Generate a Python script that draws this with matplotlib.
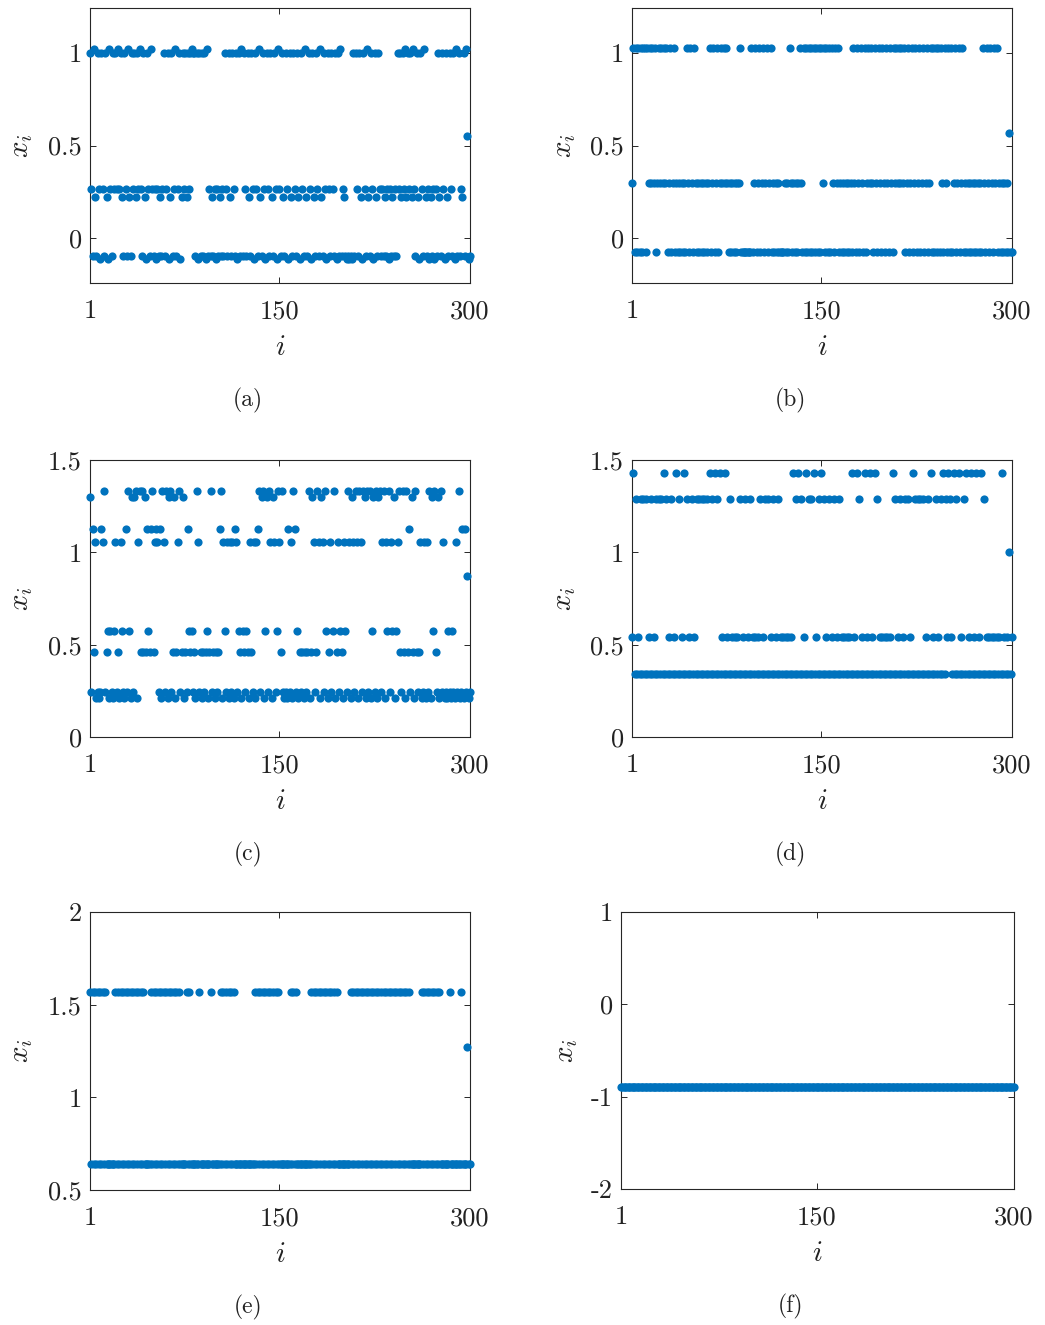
import numpy as np
import matplotlib
matplotlib.use("Agg")
import matplotlib.pyplot as plt

plt.rcParams['font.family'] = 'serif'
plt.rcParams['font.serif'] = ['cmr10']
plt.rcParams['mathtext.fontset'] = 'cm'
plt.rcParams['axes.unicode_minus'] = False

# one character per iterate i = 1..300, each character is a level below
codes_a = ("TMBtmBTMbT" "MBTmbtMBTM" "TMtMTmBTMB" "tmBTMTmTMt" "MBTmbTMBtM"
           "BMbMBmBMTB" "MTbmTBMtBM" "TbmTMTmTMT" "tTTBTbTBTB" "TbtBMBmBMb"
           "MBmBMBTMBT" "mBTMBTbTBt" "BTMBTmBTMb" "TMBtmBTMbT" "MBTmBTMbtM"
           "BTmBTMbTmB" "TMBTmbTMBt" "mBTMbTmBTM" "BtmBTMbTMB" "TMBTbTBtBM"
           "mBbBbBbTBT" "MBTmbTMBtm" "BTMbTmBTMB" "MBmBMbMBmB" "MBTMTmTMtm"
           "TMTmtMBTmb" "TMBtmBMbmB" "MbMBTmBTMb" "TmBTMBTbtB" "TBMmTBtXbB")
levels_a = {'T': 1.00, 't': 1.02, 'M': 0.265, 'm': 0.22,
            'B': -0.097, 'b': -0.113, 'X': 0.55}

codes_b = ("MTBTBTBTBT" "TBTMTMTMTB" "MTMTMTMTBM" "TBMTBMBMBM" "BMBTMBTMBT"
           "MBMBMBMBMB" "MTBMTBMTBM" "TMTMTMBMBM" "BMBMMTBBBB" "BBBBTBMTBM"
           "TBMTBMTBMT" "BMBMBMBBBB" "MBMBTMBMBM" "BMTMBTBTBT" "BTBTBTBTBT"
           "MTBTBTBTMB" "TMTBMBMBMB" "MBMBTMBTMB" "TMBTBMTMTM" "BTMBTMBTMB"
           "TMBTMBTMTM" "TMTMTBMTBM" "TBMTBMTBMT" "BMTBMTBTBT" "BTBTMBTMBT"
           "BTBMTBMTBM" "TBMBMBMBMB" "MBMBMBTMBT" "MBTMBTMTBM" "BMBMBMBXBB")
levels_b = {'T': 1.027, 'M': 0.297, 'B': -0.076, 'X': 0.57}

codes_c = ("QWRVSwWwWR" "SPWVUwUWwU" "SWVwSUWwRW" "PUwQWQPwSP" "VPVQVRUVRP"
           "VSRSWRwPSW" "PwQPWVQwVS" "PWVQwVWRUV" "UWVwPSWVwV" "WVUwVPWVwV"
           "WVRPwSUWSw" "SWSwRSWUVw" "UVWUVwSVWS" "wSRPWQPwUQ" "WPSwQSWUPS"
           "VPWwWwRWSw" "PRWUwVWVwV" "WVPwVQSWVP" "SwQSWPUwVS" "WUPwVSWUVw"
           "SUWPSwQSWP" "SwPSWPQwPW" "PwUQWPwQPW" "SPwSUPWSUQ" "wUSPVWPVwP"
           "VRWQVwPVWV" "SwWSwSWPwQ" "UPVWQwPWSw" "WwUWwUWwSW" "PwWRwRWXwW")
levels_c = {'P': 1.333, 'Q': 1.30, 'R': 1.127, 'S': 1.056, 'U': 0.574,
            'V': 0.46, 'W': 0.245, 'w': 0.21, 'X': 0.87}

codes_d = ("CADBDCDBDB" "DBDCDBDCDB" "DBDBDADBDC" "DBDCDADBDC" "DADBDCDBDC"
           "DBDBDBDBDB" "DADBDADBDA" "DCDADCDBDC" "DCDCDBDCDB" "DCDBDCDCDC"
           "DBDCDBDBDC" "DBDCDBDCDC" "DCDCDCDADB" "DADBDCDADB" "DBDADCDBDA"
           "DBDCDBDCDB" "DCDBDCDCDC" "DCDADCDADB" "DCDADCDADC" "DADBDCDCDC"
           "DCDCDADBDC" "DBDCDBDBDC" "DADBDBDBDB" "DCDBDADCDB" "DCDBDADBCA"
           "BCDADBDADC" "DBDADCDADC" "DADCDADBDC" "DCDCDCDCDC" "DADCDCDXDC")
levels_d = {'A': 1.43, 'B': 1.29, 'C': 0.54, 'D': 0.34, 'X': 1.0}

codes_e = ("HLHLHLHLHL" "HLHLLLLLLL" "HLHLHLHLHL" "HLHLHLHLHL" "HLHLLLLLHL"
           "HLHLHLHLHL" "HLHLHLHLHL" "HLLLLLHLHL" "LLLLLLHLLL" "LLLLLHLLLL"
           "LLLHLHLHLH" "LHLHLLLLLL" "LLLLLLLLLL" "HLHLHLHLHL" "HLHLHLHLHL"
           "LLLLLLLLHL" "HLHLLLLLLL" "LLLLHLHLHL" "HLHLHLHLHL" "HLHLHLLLLL"
           "LLLLLHLHLH" "LHLHLHLHLH" "LHLHLHLHLH" "LHLHLHLHLH" "LHLHLHLHLH"
           "LHLLLLLLLL" "LHLHLHLHLH" "LHLHLHLLLL" "LLLHLLLLLL" "LLHLLLLXLL")
levels_e = {'H': 1.57, 'L': 0.64, 'X': 1.27}

codes_f = "F" * 300
levels_f = {'F': -0.9}

ylims = [(-0.243, 1.243), (-0.243, 1.243), (0, 1.5), (0, 1.5), (0.5, 2), (-2, 1)]
yticks = [[0, 0.5, 1], [0, 0.5, 1], [0, 0.5, 1, 1.5], [0, 0.5, 1, 1.5],
          [0.5, 1, 1.5, 2], [-2, -1, 0, 1]]
ytick_labels = [["0", "0.5", "1"], ["0", "0.5", "1"], ["0", "0.5", "1", "1.5"],
                ["0", "0.5", "1", "1.5"], ["0.5", "1", "1.5", "2"],
                ["-2", "-1", "0", "1"]]
captions = ["(a)", "(b)", "(c)", "(d)", "(e)", "(f)"]

W, H = 1045, 1325
fig = plt.figure(figsize=(W / 100, H / 100), dpi=100)

# axes boxes in pixels: left, right, top, bottom
boxes = [(90, 470, 8, 283), (632, 1012, 8, 283),
         (90, 470, 460, 737), (632, 1012, 460, 737),
         (90, 470, 912, 1190), (621, 1014, 912, 1189)]
ylab_x = [22, 565, 22, 565, 22, 567]
cap_x = [248, 790, 248, 790, 248, 790]

all_codes = [codes_a, codes_b, codes_c, codes_d, codes_e, codes_f]
all_levels = [levels_a, levels_b, levels_c, levels_d, levels_e, levels_f]
idx = np.arange(1, 301)
edge = '#262626'

for k in range(6):
    codes, levels = all_codes[k], all_levels[k]
    assert len(codes) == 300
    y = np.array([levels[c] for c in codes])
    l, r, t, b = boxes[k]
    ax = fig.add_axes([l / W, 1 - b / H, (r - l) / W, (b - t) / H])
    ax.plot(idx, y, 'o', color='#0072BD', ms=5.9, mew=0, clip_on=False, zorder=3)
    ax.set_xlim(1, 300)
    ax.set_ylim(*ylims[k])
    ax.set_xticks([1, 150, 300])
    ax.set_xticklabels(["1", "150", "300"])
    ax.set_yticks(yticks[k])
    ax.set_yticklabels(ytick_labels[k])
    ax.tick_params(direction='in', top=True, right=True, length=4.5,
                   width=0.7, color=edge, labelsize=19, labelcolor='#222222')
    ax.tick_params(axis='x', pad=12)
    ax.tick_params(axis='y', pad=6)
    for s in ax.spines.values():
        s.set_color(edge)
        s.set_linewidth(0.8)
    h = b - t
    ax.text(0.5, -65 / h, '$i$', transform=ax.transAxes, ha='center',
            va='center', fontsize=21, color='#222222')
    ax.text((ylab_x[k] - l) / (r - l), 0.5, '$x_i$', transform=ax.transAxes,
            ha='center', va='center', rotation=90, fontsize=21, color='#222222')
    fig.text(cap_x[k] / W, 1 - (b + 117) / H, captions[k], ha='center',
             va='center', fontsize=17, color='#222222')

fig.savefig('out.png', dpi=100)
